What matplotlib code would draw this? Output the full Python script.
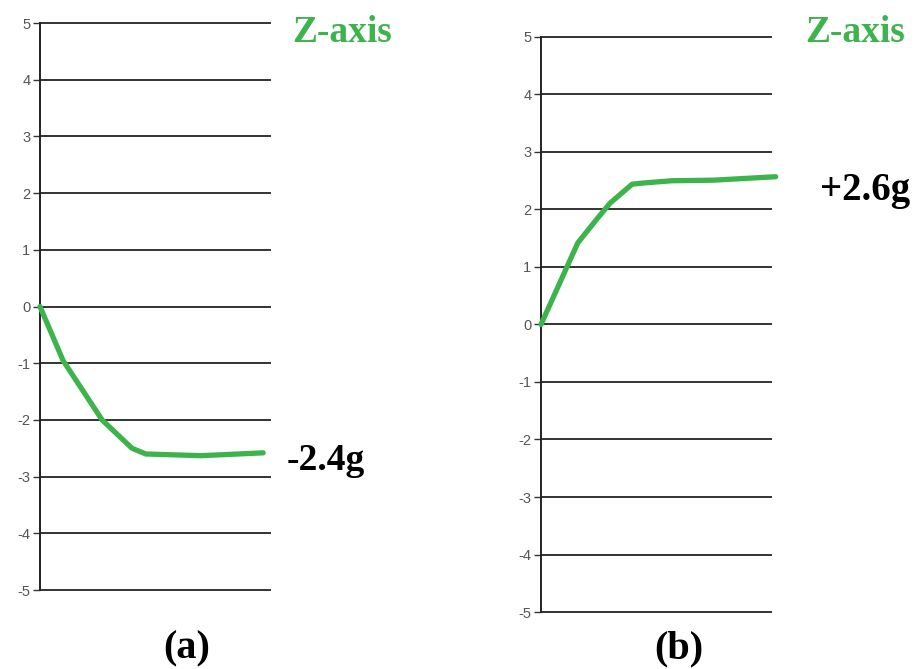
import matplotlib
matplotlib.use('Agg')
import matplotlib.pyplot as plt

# Z-axis readings (g)
x_a = [0, 1.0, 2.7, 4.0, 4.6, 7.0, 9.7]
z_a = [0, -0.95, -2.0, -2.5, -2.6, -2.63, -2.58]
x_b = [0, 1.6, 2.4, 3.0, 3.96, 4.43, 5.7, 7.5, 10.2]
z_b = [0, 1.42, 1.82, 2.11, 2.44, 2.46, 2.5, 2.51, 2.57]
yticks = [5, 4, 3, 2, 1, 0, -1, -2, -3, -4, -5]

green = '#3cb44b'
fig = plt.figure(figsize=(9.24, 6.69), dpi=100)

def panel(rect, xs, zs):
    ax = fig.add_axes(rect)
    for t in yticks:
        ax.axhline(t, color='#333333', lw=1.4, zorder=1, clip_on=False)
    ax.plot(xs, zs, color=green, lw=3.8, solid_capstyle='round', zorder=3, clip_on=False)
    ax.set_xlim(0, 10)
    ax.set_ylim(-5, 5)
    ax.set_yticks(yticks)
    ax.set_yticklabels([str(t) for t in yticks], fontsize=10.5, color='#555555',
                       family='Liberation Sans')
    ax.tick_params(axis='y', length=5, width=1, color='#333333', pad=2)
    ax.set_xticks([])
    for s in ['top', 'right', 'bottom']:
        ax.spines[s].set_visible(False)
    ax.spines['left'].set_color('#222222')
    ax.spines['left'].set_linewidth(1.4)
    ax.patch.set_alpha(0)
    return ax

panel([0.0433, 0.118, 0.249, 0.8475], x_a, z_a)
panel([0.5855, 0.0852, 0.249, 0.8595], x_b, z_b)

serif = 'Liberation Serif'
fig.text(0.370, 0.952, 'Z-axis', color=green, fontsize=27, fontweight='bold',
         family=serif, ha='center', va='center')
fig.text(0.925, 0.952, 'Z-axis', color=green, fontsize=27, fontweight='bold',
         family=serif, ha='center', va='center')
fig.text(0.353, 0.312, '-2.4g', color='black', fontsize=27, fontweight='bold',
         family=serif, ha='center', va='center')
fig.text(0.936, 0.715, '+2.6g', color='black', fontsize=28, fontweight='bold',
         family=serif, ha='center', va='center')
fig.text(0.202, 0.03, '(a)', color='black', fontsize=29, fontweight='bold',
         family=serif, ha='center', va='center')
fig.text(0.735, 0.03, '(b)', color='black', fontsize=29, fontweight='bold',
         family=serif, ha='center', va='center')

fig.savefig('out.png', dpi=100, facecolor='white')
